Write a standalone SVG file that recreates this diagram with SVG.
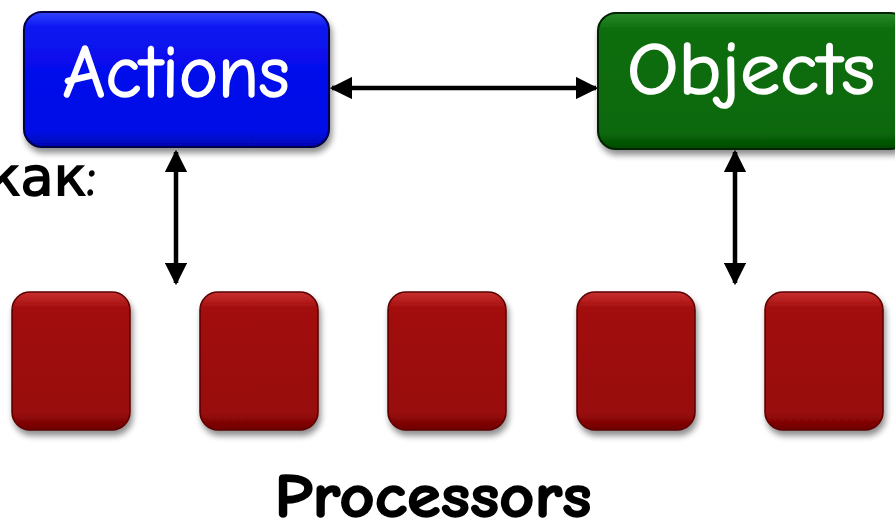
<svg xmlns="http://www.w3.org/2000/svg" width="895" height="530" viewBox="0 0 895 530">
  <defs>
    <filter id="shadow" x="-10%" y="-10%" width="125%" height="130%">
      <feGaussianBlur in="SourceAlpha" stdDeviation="3"/>
      <feOffset dx="2" dy="5"/>
      <feComponentTransfer><feFuncA type="linear" slope="0.45"/></feComponentTransfer>
      <feMerge><feMergeNode/><feMergeNode in="SourceGraphic"/></feMerge>
    </filter>
    <linearGradient id="blueGrad" x1="0" y1="0" x2="0" y2="1">
      <stop offset="0" stop-color="#3344ff"/>
      <stop offset="0.12" stop-color="#0a14f0"/>
      <stop offset="0.88" stop-color="#0008e6"/>
      <stop offset="1" stop-color="#0006b0"/>
    </linearGradient>
    <linearGradient id="greenGrad" x1="0" y1="0" x2="0" y2="1">
      <stop offset="0" stop-color="#2a8a2a"/>
      <stop offset="0.12" stop-color="#0d6e0d"/>
      <stop offset="0.88" stop-color="#086808"/>
      <stop offset="1" stop-color="#044a04"/>
    </linearGradient>
    <linearGradient id="redGrad" x1="0" y1="0" x2="0" y2="1">
      <stop offset="0" stop-color="#c83030"/>
      <stop offset="0.12" stop-color="#a20c0c"/>
      <stop offset="0.88" stop-color="#980808"/>
      <stop offset="1" stop-color="#6e0404"/>
    </linearGradient>
    <marker id="arrow" viewBox="0 0 10 10" refX="9" refY="5" markerWidth="5" markerHeight="5" orient="auto-start-reverse" markerUnits="strokeWidth">
      <path d="M0,0 L10,5 L0,10 Z" fill="#000"/>
    </marker>
  </defs>
  <style>
    .label { font-family: "Comic Sans MS", "Comic Neue", "DejaVu Sans", sans-serif; }
    .box-text { fill: #ffffff; stroke: #ffffff; stroke-width: 1.6; font-size: 74px; text-anchor: middle; }
    .dark-text { fill: #000000; stroke: #000000; }
    .cpu { fill: url(#redGrad); stroke: #5a0000; stroke-width: 1.5; filter: url(#shadow); }
    .conn { stroke: #000; stroke-width: 4.5; fill: none; marker-start: url(#arrow); marker-end: url(#arrow); }
  </style>

  <rect width="895" height="530" fill="#ffffff"/>

  <text class="label dark-text" x="-12" y="195" font-size="54" stroke-width="1.6">как:</text>

  <g id="connectors">
    <line class="conn" x1="332" y1="88" x2="596" y2="88"/>
    <line class="conn" x1="176" y1="152" x2="176" y2="283"/>
    <line class="conn" x1="735" y1="152" x2="735" y2="283"/>
  </g>

  <g id="actions">
    <rect x="24" y="12" width="305" height="135" rx="18" fill="url(#blueGrad)" stroke="#000044" stroke-width="2" filter="url(#shadow)"/>
    <text class="label box-text" x="176" y="97" textLength="227" lengthAdjust="spacingAndGlyphs">Actions</text>
  </g>

  <g id="objects">
    <rect x="598" y="13" width="310" height="136" rx="18" fill="url(#greenGrad)" stroke="#002200" stroke-width="2" filter="url(#shadow)"/>
    <text class="label box-text" x="751" y="94" textLength="248" lengthAdjust="spacingAndGlyphs">Objects</text>
  </g>

  <g id="processor-1"><rect class="cpu" x="12" y="292" width="118" height="138" rx="18"/></g>
  <g id="processor-2"><rect class="cpu" x="200" y="292" width="118" height="138" rx="18"/></g>
  <g id="processor-3"><rect class="cpu" x="388" y="292" width="118" height="138" rx="18"/></g>
  <g id="processor-4"><rect class="cpu" x="577" y="292" width="118" height="138" rx="18"/></g>
  <g id="processor-5"><rect class="cpu" x="765" y="292" width="118" height="138" rx="18"/></g>

  <text class="label dark-text" x="433" y="517" font-size="63" font-weight="bold" stroke-width="1.5" text-anchor="middle" textLength="317" lengthAdjust="spacingAndGlyphs">Processors</text>
</svg>
